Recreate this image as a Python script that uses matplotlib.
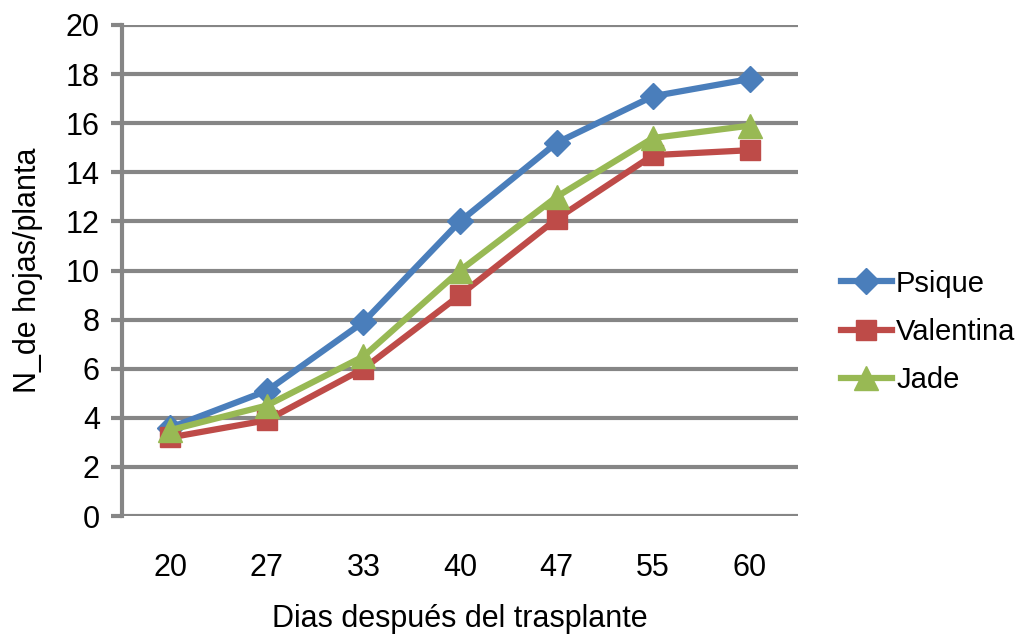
import matplotlib
matplotlib.use("Agg")
import matplotlib.pyplot as plt

plt.rcParams["font.family"] = ["Liberation Sans", "DejaVu Sans"]

dias = ["20", "27", "33", "40", "47", "55", "60"]
psique = [3.6, 5.1, 7.9, 12.0, 15.2, 17.1, 17.8]
valentina = [3.2, 3.9, 6.0, 9.0, 12.1, 14.7, 14.9]
jade = [3.5, 4.5, 6.5, 10.0, 13.0, 15.4, 15.9]

grid_c = "#868686"
fs = 22

fig = plt.figure(figsize=(10.31, 6.34), dpi=100)
ax = fig.add_axes([122 / 1031, 1 - 516 / 634, (798 - 122) / 1031, (516 - 25) / 634])

x = range(len(dias))
ax.plot(x, psique, color="#4A7EBB", lw=4.5, marker="D", ms=13, label="Psique")
ax.plot(x, valentina, color="#BE4B48", lw=4.5, marker="s", ms=14, label="Valentina")
ax.plot(x, jade, color="#98B954", lw=4.5, marker="^", ms=17, label="Jade")

ax.set_xlim(-0.5, len(dias) - 0.5)
ax.set_ylim(0, 20)
ax.set_yticks(range(0, 21, 2))
ax.set_xticks(list(x))
ax.set_xticklabels(dias)
ax.yaxis.grid(True, color=grid_c, lw=3)
ax.set_axisbelow(True)
for s in ["top", "right", "bottom"]:
    ax.spines[s].set_visible(False)
ax.spines["left"].set_color(grid_c)
ax.spines["left"].set_linewidth(3)
ax.tick_params(axis="y", color=grid_c, width=3, length=8, labelsize=fs, pad=8)
ax.tick_params(axis="x", length=0, labelsize=fs, pad=27)

ax.set_xlabel("Dias después del trasplante", fontsize=fs, labelpad=15)
ax.set_ylabel("N_de hojas/planta", fontsize=fs, labelpad=16)

fig.legend(loc="center left", bbox_to_anchor=(829 / 1031, 1 - 332 / 634),
           frameon=False, fontsize=21, handlelength=1.75, handletextpad=0.15,
           labelspacing=0.7, borderaxespad=0)

fig.savefig("out.png", dpi=100)
